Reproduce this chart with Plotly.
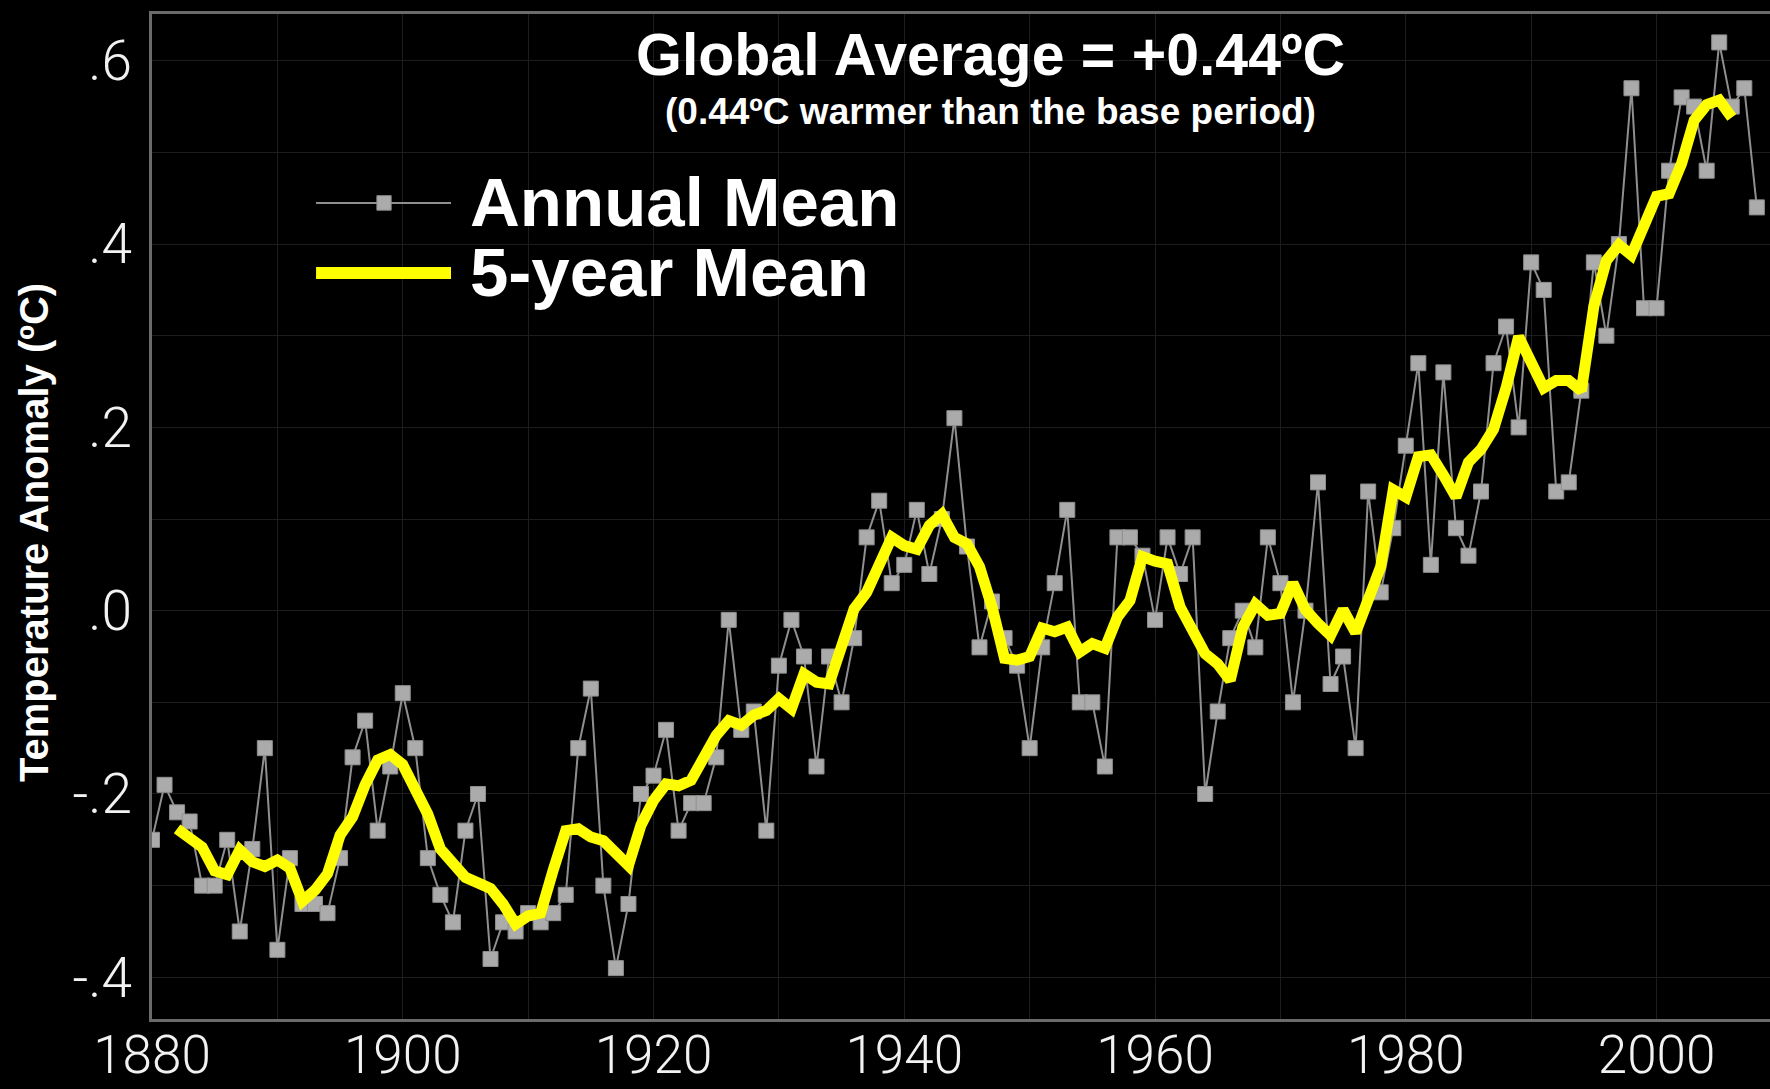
import plotly.graph_objects as go

# ---- data ----
annual_years = list(range(1880, 2009))
annual_mean = [
    -0.25, -0.19, -0.22, -0.23, -0.30, -0.30, -0.25, -0.35, -0.26, -0.15,   # 1880-1889
    -0.37, -0.27, -0.32, -0.32, -0.33, -0.27, -0.16, -0.12, -0.24, -0.17,   # 1890-1899
    -0.09, -0.15, -0.27, -0.31, -0.34, -0.24, -0.20, -0.38, -0.34, -0.35,   # 1900-1909
    -0.33, -0.34, -0.33, -0.31, -0.15, -0.085, -0.30, -0.39, -0.32, -0.20,  # 1910-1919
    -0.18, -0.13, -0.24, -0.21, -0.21, -0.16, -0.01, -0.13, -0.11, -0.24,   # 1920-1929
    -0.06, -0.01, -0.05, -0.17, -0.05, -0.10, -0.03, 0.08, 0.12, 0.03,      # 1930-1939
    0.05, 0.11, 0.04, 0.10, 0.21, 0.07, -0.04, 0.01, -0.03, -0.06,          # 1940-1949
    -0.15, -0.04, 0.03, 0.11, -0.10, -0.10, -0.17, 0.08, 0.08, 0.06,        # 1950-1959
    -0.01, 0.08, 0.04, 0.08, -0.20, -0.11, -0.03, 0.00, -0.04, 0.08,        # 1960-1969
    0.03, -0.10, 0.00, 0.14, -0.08, -0.05, -0.15, 0.13, 0.02, 0.09,         # 1970-1979
    0.18, 0.27, 0.05, 0.26, 0.09, 0.06, 0.13, 0.27, 0.31, 0.20,             # 1980-1989
    0.38, 0.35, 0.13, 0.14, 0.24, 0.38, 0.30, 0.40, 0.57, 0.33,             # 1990-1999
    0.33, 0.48, 0.56, 0.55, 0.48, 0.62, 0.55, 0.57, 0.44,                   # 2000-2008
]

five_year_years = list(range(1882, 2007))
five_year_mean = [
    -0.238, -0.247, -0.258, -0.284, -0.288, -0.261, -0.274, -0.279,          # 1882-1889
    -0.272, -0.281, -0.317, -0.305, -0.287, -0.245, -0.225, -0.190, -0.163, -0.157,  # 1890-1899
    -0.168, -0.195, -0.222, -0.260, -0.274, -0.291, -0.297, -0.303, -0.320, -0.342,  # 1900-1909
    -0.333, -0.330, -0.283, -0.240, -0.238, -0.247, -0.251, -0.264, -0.278, -0.234,  # 1910-1919
    -0.207, -0.189, -0.191, -0.185, -0.163, -0.136, -0.120, -0.125, -0.114, -0.109,  # 1920-1929
    -0.096, -0.107, -0.069, -0.078, -0.080, -0.042, 0.002, 0.020, 0.047, 0.080,      # 1930-1939
    0.071, 0.067, 0.093, 0.105, 0.080, 0.073, 0.048, 0.004, -0.052, -0.054,          # 1940-1949
    -0.050, -0.019, -0.023, -0.018, -0.045, -0.036, -0.041, -0.007, 0.011, 0.059,    # 1950-1959
    0.054, 0.051, 0.004, -0.025, -0.047, -0.058, -0.076, -0.018, 0.007, -0.005,      # 1960-1969
    -0.003, 0.030, 0.001, -0.014, -0.027, 0.001, -0.024, 0.012, 0.048, 0.132,        # 1970-1979
    0.124, 0.168, 0.170, 0.148, 0.124, 0.162, 0.176, 0.198, 0.243, 0.299,            # 1980-1989
    0.271, 0.243, 0.251, 0.251, 0.240, 0.332, 0.382, 0.399, 0.388, 0.421,            # 1990-1999
    0.452, 0.455, 0.488, 0.535, 0.552, 0.557, 0.538,                                  # 2000-2006
]

x_tick_vals = [1880, 1900, 1920, 1940, 1960, 1980, 2000]
x_tick_text = ["1880", "1900", "1920", "1940", "1960", "1980", "2000"]
y_tick_vals = [-0.4, -0.2, 0.0, 0.2, 0.4, 0.6]
y_tick_text = ["-.4", "-.2", ".0", ".2", ".4", ".6"]

title_text = "Global Average = +0.44ºC"
subtitle_text = "(0.44ºC warmer than the base period)"
y_title = "Temperature Anomaly (ºC)"
legend_names = ["Annual Mean", "5-year Mean"]

GRAY_LINE = "#8f8f8f"
GRAY_MARK = "#ababab"
YELLOW = "#ffff00"

fig = go.Figure()
fig.add_trace(go.Scatter(
    x=annual_years, y=annual_mean, mode="lines+markers", name=legend_names[0],
    line=dict(color=GRAY_LINE, width=2),
    marker=dict(symbol="square", size=15, color=GRAY_MARK,
                line=dict(color="#8f8f8f", width=1)),
    showlegend=False,
))
fig.add_trace(go.Scatter(
    x=five_year_years, y=five_year_mean, mode="lines", name=legend_names[1],
    line=dict(color=YELLOW, width=11),
    showlegend=False,
))

# manual legend (long line samples as in the reference)
LEG_Y1, LEG_Y2 = 0.812, 0.7424
fig.add_shape(type="line", xref="paper", yref="paper", x0=0.1014, x1=0.1848,
              y0=LEG_Y1, y1=LEG_Y1, line=dict(color=GRAY_LINE, width=2))
fig.add_shape(type="rect", xref="paper", yref="paper", x0=0.1390, x1=0.1478,
              y0=LEG_Y1 - 0.0072, y1=LEG_Y1 + 0.0072, fillcolor=GRAY_MARK,
              line=dict(color="#8f8f8f", width=1))
fig.add_shape(type="line", xref="paper", yref="paper", x0=0.1014, x1=0.1848,
              y0=LEG_Y2, y1=LEG_Y2, line=dict(color=YELLOW, width=12))

BOLD = "Liberation Sans, Arial, sans-serif"
fig.add_annotation(text="<b>%s</b>" % legend_names[0], xref="paper", yref="paper",
                   x=0.1951, y=LEG_Y1, xanchor="left", yanchor="middle", showarrow=False,
                   font=dict(family=BOLD, size=69, color="white"))
fig.add_annotation(text="<b>%s</b>" % legend_names[1], xref="paper", yref="paper",
                   x=0.1951, y=LEG_Y2, xanchor="left", yanchor="middle", showarrow=False,
                   font=dict(family=BOLD, size=69, color="white"))

fig.add_annotation(text="<b>%s</b>" % title_text, xref="paper", yref="paper",
                   x=0.518, y=0.959, xanchor="center", yanchor="middle", showarrow=False,
                   font=dict(family=BOLD, size=59, color="white"))
fig.add_annotation(text="<b>%s</b>" % subtitle_text, xref="paper", yref="paper",
                   x=0.518, y=0.9025, xanchor="center", yanchor="middle", showarrow=False,
                   font=dict(family=BOLD, size=37, color="white"))

# y-axis title placed as rotated text
fig.add_annotation(text="<b>%s</b>" % y_title, xref="paper", yref="paper",
                   x=-0.0729, y=0.4836, xanchor="center", yanchor="middle", showarrow=False,
                   textangle=-90, font=dict(family=BOLD, size=40, color="white"))

XTICKFONT = dict(family="Roboto, Liberation Sans, sans-serif", size=53, color="#f2f2f2", weight=300)
YTICKFONT = dict(family="Roboto, Liberation Sans, sans-serif", size=55, color="#f2f2f2", weight=300)

fig.update_layout(
    width=1770, height=1089,
    paper_bgcolor="black", plot_bgcolor="black",
    margin=dict(l=152, r=0, t=14, b=70, autoexpand=False),
    xaxis=dict(
        range=[1880, 2009.05], tickmode="array", tickvals=x_tick_vals, ticktext=x_tick_text,
        tickfont=XTICKFONT, ticks="", showgrid=True, gridcolor="#1d1d1d", gridwidth=1,
        minor=dict(dtick=10, tick0=1880, showgrid=True, gridcolor="#1d1d1d", gridwidth=1),
        showline=True, linecolor="#6a6a6a", linewidth=3, mirror=True, zeroline=False,
        ticklabelstandoff=-13, automargin=False,
    ),
    yaxis=dict(
        range=[-0.4455, 0.651], tickmode="array", tickvals=y_tick_vals, ticktext=y_tick_text,
        tickfont=YTICKFONT, ticks="", showgrid=True, gridcolor="#1d1d1d", gridwidth=1,
        minor=dict(dtick=0.1, tick0=0, showgrid=True, gridcolor="#1d1d1d", gridwidth=1),
        showline=True, linecolor="#6a6a6a", linewidth=3, mirror=False, zeroline=False,
        ticklabelstandoff=6, automargin=False,
    ),
)

fig.write_html("out.html", config={"displayModeBar": False},
               post_script="document.body.style.margin='0';document.body.style.overflow='hidden';")
